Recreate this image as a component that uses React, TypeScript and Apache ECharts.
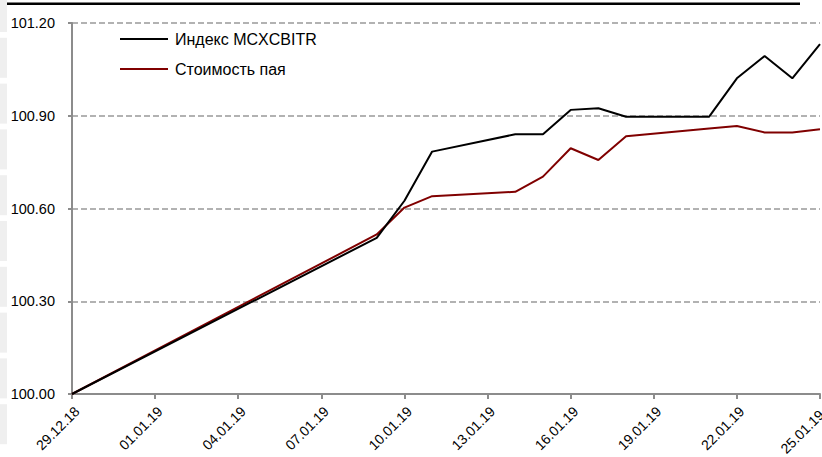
import React, { useEffect, useRef } from "react";
import * as echarts from "echarts";

const dates = ["29.12.18", "09.01.19", "10.01.19", "11.01.19", "14.01.19", "15.01.19", "16.01.19", "17.01.19", "18.01.19", "21.01.19", "22.01.19", "23.01.19", "24.01.19", "25.01.19"];
const indexValues = [100.0, 100.505, 100.625, 100.784, 100.84, 100.84, 100.919, 100.924, 100.897, 100.897, 101.021, 101.093, 101.021, 101.132];
const fundValues = [100.0, 100.516, 100.603, 100.64, 100.654, 100.703, 100.795, 100.757, 100.834, 100.859, 100.867, 100.846, 100.846, 100.856];
const seriesNames = ["Индекс MCXCBITR", "Стоимость пая"];
const yTicks = { min: 100, max: 101.2, interval: 0.3 };

const FONT = "'Liberation Sans', Arial, sans-serif";

function parseDate(s: string): number {
  const [d, m, y] = s.split(".").map(Number);
  return Date.UTC(2000 + y, m - 1, d);
}
const base = parseDate(dates[0]);
const DAY = 86400000;
const dayOffset = (s: string) => Math.round((parseDate(s) - base) / DAY);
const lastDay = dayOffset(dates[dates.length - 1]);
const fmtDay = (v: number) => {
  const dt = new Date(base + v * DAY);
  const dd = String(dt.getUTCDate()).padStart(2, "0");
  const mm = String(dt.getUTCMonth() + 1).padStart(2, "0");
  const yy = String(dt.getUTCFullYear() % 100).padStart(2, "0");
  return `${dd}.${mm}.${yy}`;
};

export default function App() {
  const ref = useRef<HTMLDivElement>(null);
  useEffect(() => {
    document.documentElement.style.overflow = "hidden";
    document.body.style.margin = "0";
    document.body.style.overflow = "hidden";
    if (!ref.current) return;
    const chart = echarts.init(ref.current, null, { renderer: "svg" });
    const xs = dates.map(dayOffset);
    const blocks: any[] = [];
    for (let i = 0; i < 10; i++) {
      blocks.push({
        type: "rect",
        shape: { x: 0, y: i * 45.8 - 8, width: 7, height: 40 },
        style: { fill: "#efefef" },
        silent: true,
      });
    }
    blocks.push({
      type: "rect",
      shape: { x: 7, y: 2.5, width: 793, height: 2.5 },
      style: { fill: "#000" },
      silent: true,
    });
    chart.setOption({
      animation: false,
      backgroundColor: "#fff",
      textStyle: { fontFamily: FONT },
      graphic: blocks,
      grid: { left: 72, right: 2, top: 23, bottom: 63, containLabel: false, outerBoundsMode: "none" },
      legend: {
        orient: "vertical",
        left: 115,
        top: 26,
        itemWidth: 48,
        itemHeight: 2,
        itemGap: 14,
        icon: "rect",
        textStyle: { fontFamily: FONT, fontSize: 16, color: "#000", padding: [0, 0, 0, 2] },
        data: seriesNames,
      },
      xAxis: {
        type: "value",
        min: 0,
        max: 27,
        interval: 3,
        axisLine: { lineStyle: { color: "#8c8c8c", width: 2 } },
        axisTick: { show: true, inside: false, length: 5, lineStyle: { color: "#8c8c8c", width: 2 } },
        splitLine: { show: false },
        axisLabel: {
          rotate: 45,
          margin: 10,
          verticalAlign: "top",
          fontSize: 14,
          color: "#000",
          fontFamily: FONT,
          formatter: (v: number) => (v >= lastDay ? `{e|${fmtDay(v)}}` : fmtDay(v)),
          rich: {
            e: { fontSize: 14, color: "#000", fontFamily: FONT, padding: [0, 5, 0, 0] },
          },
        },
      },
      yAxis: {
        type: "value",
        min: yTicks.min,
        max: yTicks.max,
        interval: yTicks.interval,
        axisLine: { show: true, lineStyle: { color: "#8c8c8c", width: 2 } },
        axisTick: { show: true, length: 4, lineStyle: { color: "#8c8c8c", width: 2 } },
        splitLine: { show: true, lineStyle: { color: "#999", width: 1.5, type: [6, 3] } },
        axisLabel: {
          margin: 17,
          fontSize: 14.5,
          color: "#000",
          fontFamily: FONT,
          formatter: (v: number) => v.toFixed(2),
        },
      },
      series: [
        {
          name: seriesNames[0],
          type: "line",
          symbol: "none",
          color: "#000",
          lineStyle: { width: 2, color: "#000" },
          data: xs.map((x, i) => [x, indexValues[i]]),
          z: 3,
        },
        {
          name: seriesNames[1],
          type: "line",
          symbol: "none",
          color: "#800000",
          lineStyle: { width: 2, color: "#800000" },
          data: xs.map((x, i) => [x, fundValues[i]]),
          z: 2,
        },
      ],
    });
    return () => chart.dispose();
  }, []);
  return (
    <div style={{ position: "fixed", left: 0, top: 0, width: 822, height: 457, overflow: "hidden" }}>
      <div ref={ref} style={{ width: 822, height: 457 }} />
    </div>
  );
}
